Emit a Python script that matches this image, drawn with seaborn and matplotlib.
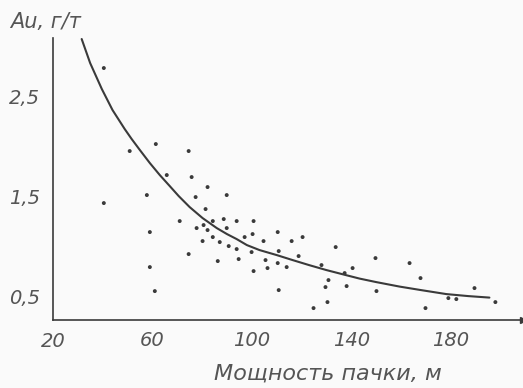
import numpy as np
import pandas as pd
import matplotlib
matplotlib.use("Agg")
import matplotlib.pyplot as plt
import seaborn as sns

# ==========================================
# Data
# ==========================================

# scatter: thickness of the unit (m) vs Au grade (g/t)
thickness = [
    40.5, 50.9, 61.4, 74.6, 65.8, 75.8, 82.2, 89.9, 57.8, 77.4,
    40.5, 81.4, 71.0, 84.3, 88.7, 93.9, 100.7, 77.8, 80.6, 82.2,
    89.9, 59.0, 84.3, 80.2, 87.1, 90.7, 93.9, 97.1, 100.3, 99.9,
    74.6, 86.3, 94.7, 100.7, 59.0, 61.0, 104.7, 110.4, 116.0, 120.4,
    105.5, 110.8, 106.3, 110.4, 114.0, 118.8, 110.8, 133.7, 128.0, 137.3,
    140.5, 130.8, 129.6, 138.1, 130.4, 124.8, 149.7, 150.1, 163.4, 167.8,
    169.8, 189.5, 179.0, 182.2, 197.9,
]
grade = [
    2.78, 1.95, 2.02, 1.95, 1.71, 1.69, 1.59, 1.51, 1.51, 1.49,
    1.43, 1.37, 1.25, 1.25, 1.27, 1.25, 1.25, 1.18, 1.21, 1.16,
    1.18, 1.14, 1.09, 1.05, 1.04, 1.00, 0.97, 1.09, 1.12, 0.94,
    0.92, 0.85, 0.87, 0.75, 0.79, 0.55, 1.05, 1.14, 1.05, 1.09,
    0.86, 0.95, 0.78, 0.83, 0.79, 0.90, 0.56, 0.99, 0.81, 0.73,
    0.78, 0.66, 0.59, 0.60, 0.44, 0.38, 0.88, 0.55, 0.83, 0.68,
    0.38, 0.58, 0.48, 0.47, 0.44,
]

# fitted curve, points
curve_x = [31.6, 35.0, 39.7, 44.0, 48.9, 51.7, 55.0, 59.0, 63.0, 67.0,
           70.6, 75.0, 80.2, 85.9, 90.0, 93.9, 98.0, 103.1, 110.0, 116.4,
           123.0, 130.0, 137.0, 143.3, 150.0, 159.4, 168.0, 178.2, 187.0,
           195.5]
curve_y = [3.07, 2.83, 2.57, 2.36, 2.17, 2.07, 1.96, 1.83, 1.71, 1.60,
           1.50, 1.39, 1.28, 1.18, 1.12, 1.07, 1.01, 0.96, 0.91, 0.86,
           0.81, 0.76, 0.715, 0.675, 0.64, 0.595, 0.56, 0.52, 0.50,
           0.485]

x_ticks = [40, 60, 80, 100, 120, 140, 160, 180, 200]
x_labels = ["", "60", "", "100", "", "140", "", "180", ""]
y_ticks = [0.5, 1.0, 1.5, 2.0, 2.5, 3.0]
y_labels = ["0,5", "", "1,5", "", "2,5", ""]

points = pd.DataFrame({"thickness": thickness, "grade": grade})
curve = pd.DataFrame({"x": curve_x, "y": curve_y})

# ==========================================
# Plot
# ==========================================

sns.set_style("white")
plt.rcParams["font.family"] = ["DejaVu Sans"]

ink = "#3a3a3a"
text_ink = "#555555"

fig = plt.figure(figsize=(5.23, 3.88), dpi=100)
fig.patch.set_facecolor("#fafafa")
ax = fig.add_axes([0.101, 0.175, 0.899, 0.727])
ax.set_facecolor("#fafafa")

sns.scatterplot(
    data=points,
    x="thickness",
    y="grade",
    s=8,
    color=ink,
    edgecolor="none",
    ax=ax
)

sns.lineplot(
    data=curve,
    x="x",
    y="y",
    sort=False,
    estimator=None,
    color=ink,
    linewidth=1.5,
    ax=ax
)

ax.set_xlim(20, 209)
ax.set_ylim(0.26, 3.08)

sns.despine(ax=ax)
for side in ["left", "bottom"]:
    ax.spines[side].set_color(ink)
    ax.spines[side].set_linewidth(1.2)

# arrow at the end of the x axis
ax.plot(1, 0, ">", color=ink, markersize=5,
        transform=ax.transAxes, clip_on=False)

ax.set_xticks(x_ticks)
ax.set_xticklabels(x_labels)
ax.set_yticks(y_ticks)
ax.set_yticklabels(y_labels)
ax.tick_params(axis="x", direction="in", length=4, width=0.8, color=ink,
               pad=8, labelsize=14, labelcolor=text_ink)
ax.tick_params(axis="y", direction="in", length=6, width=1.2, color=ink,
               pad=9, labelsize=14, labelcolor=text_ink)
for lab in ax.get_xticklabels() + ax.get_yticklabels():
    lab.set_style("italic")

# "20" sits at the origin of the x axis
ax.text(20, -0.042, "20", transform=ax.get_xaxis_transform(),
        ha="center", va="top", fontsize=14, style="italic", color=text_ink)

ax.set_xlabel("")
ax.set_ylabel("")
fig.text(0.585 * 0.899 + 0.101, 0.038, "Мощность пачки, м",
         ha="center", va="center", fontsize=16, style="italic", color=text_ink)
fig.text(0.02, 0.943, "Au, г/т", ha="left", va="center",
         fontsize=15, style="italic", color=text_ink)

plt.savefig("out.png", dpi=100, facecolor=fig.get_facecolor())
